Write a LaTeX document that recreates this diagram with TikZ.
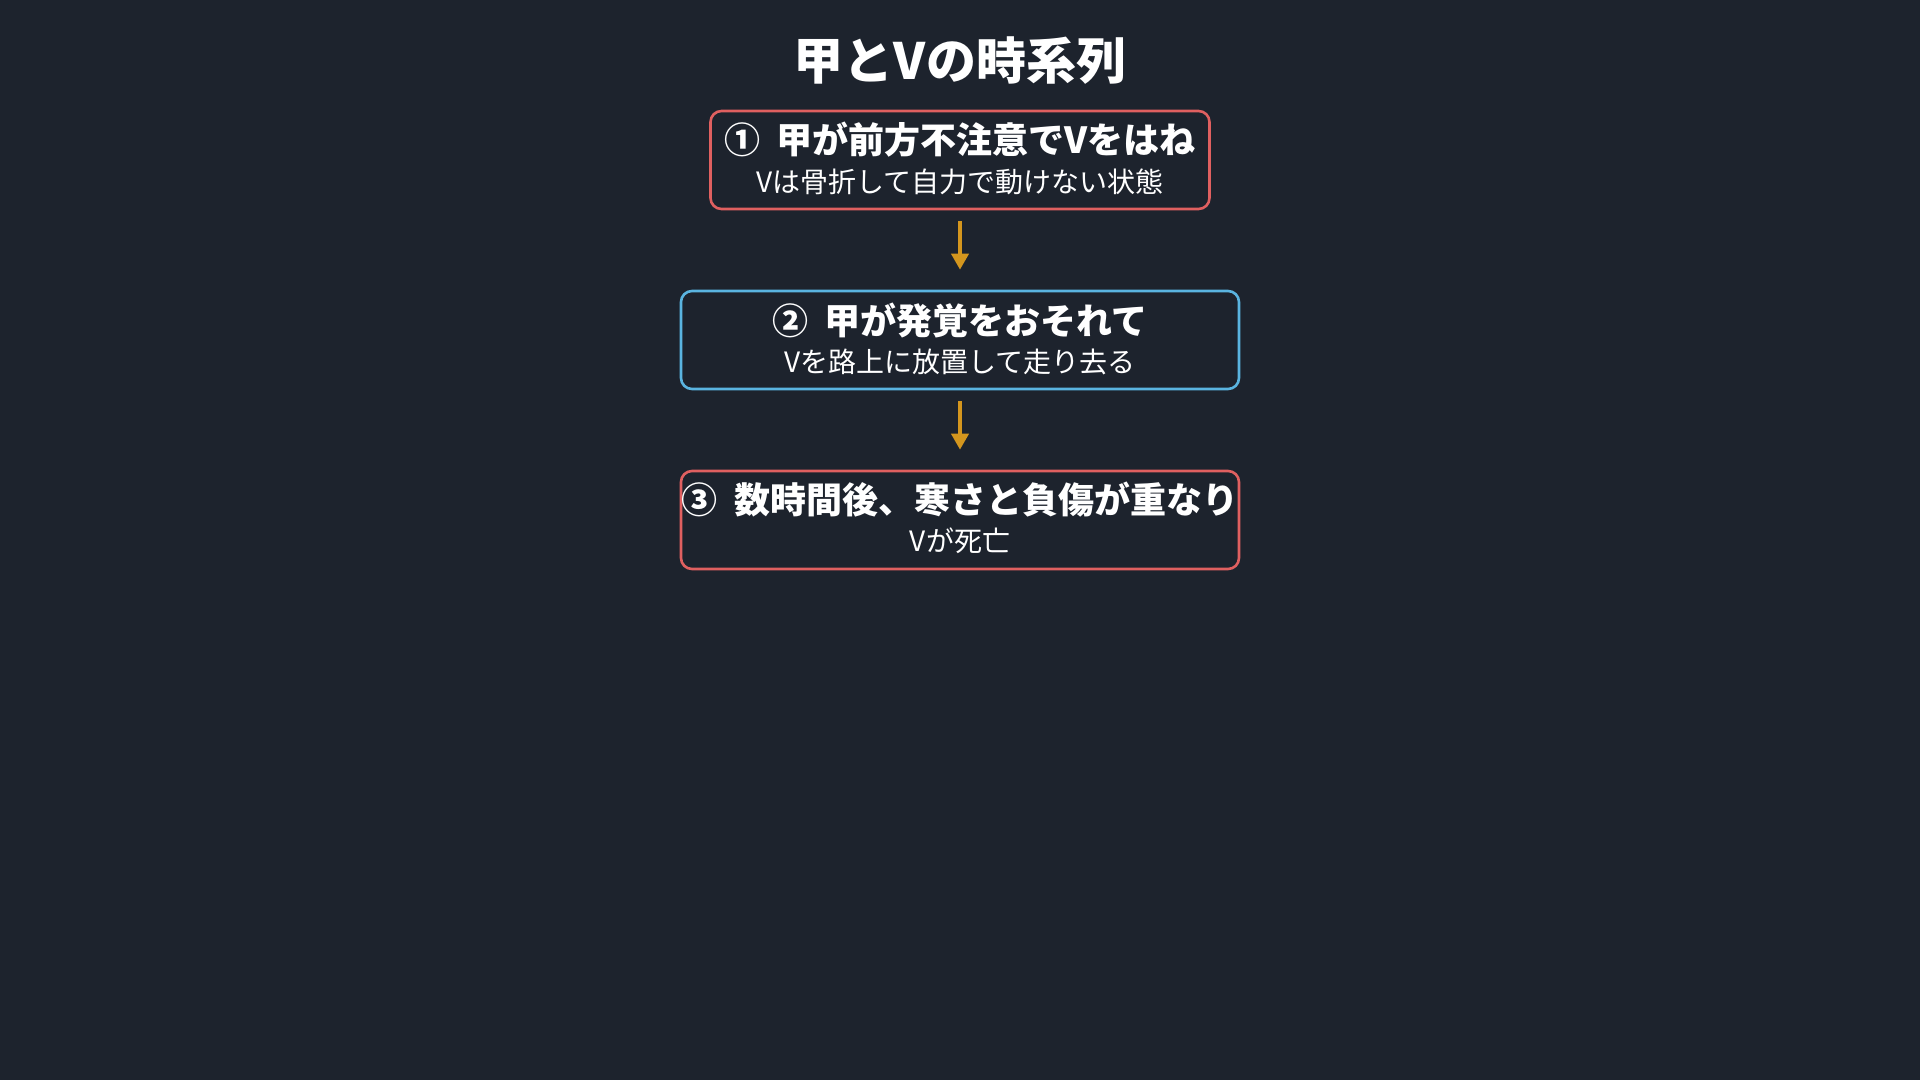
\documentclass[tikz,border=0pt]{standalone}
\usepackage{fontspec}
\setmainfont{Noto Sans CJK JP}
\usetikzlibrary{arrows.meta}
\definecolor{bg}{HTML}{1D232D}
\definecolor{redb}{HTML}{E06060}
\definecolor{blueb}{HTML}{5AB4E0}
\definecolor{arr}{HTML}{D4961E}
\tikzset{
  box/.style={draw, line width=2.6pt, rounded corners=11pt, inner sep=0pt, fill=bg},
  headtxt/.style={text=white, font=\fontsize{36}{42}\selectfont\bfseries, inner sep=0pt},
  subtxt/.style={text=white, font=\fontsize{28}{34}\selectfont, inner sep=0pt},
  flow/.style={draw=arr, line width=3.8pt, -{Triangle[width=17pt,length=16pt]}}
}
\begin{document}
\begin{tikzpicture}[x=1pt,y=-1pt]
\fill[bg] (0,0) rectangle (1920,1080);
\useasboundingbox (0,0) rectangle (1920,1080);
\node[text=white, font=\fontsize{50}{58}\selectfont\bfseries, inner sep=0pt] (title) at (960,61) {甲とVの時系列};
\node[box, draw=redb, minimum width=499pt, minimum height=98pt] (b1) at (960,160) {};
\node[headtxt] (h1) at (960,140) {①\hspace{8pt} 甲が前方不注意でVをはね};
\node[subtxt] (s1) at (960,182) {Vは骨折して自力で動けない状態};
\node[box, draw=blueb, minimum width=558pt, minimum height=98pt] (b2) at (960,340) {};
\node[headtxt] (h2) at (960,320) {②\hspace{8pt} 甲が発覚をおそれて};
\node[subtxt] (s2) at (960,362) {Vを路上に放置して走り去る};
\node[box, draw=redb, minimum width=558pt, minimum height=98pt] (b3) at (960,520) {};
\node[headtxt] (h3) at (960,500) {③\hspace{8pt} 数時間後、寒さと負傷が重なり};
\node[subtxt] (s3) at (960,541) {Vが死亡};
\draw[flow] ([yshift=-11pt]b1.south) -- ([yshift=20pt]b2.north);
\draw[flow] ([yshift=-11pt]b2.south) -- ([yshift=20pt]b3.north);
\end{tikzpicture}
\end{document}
